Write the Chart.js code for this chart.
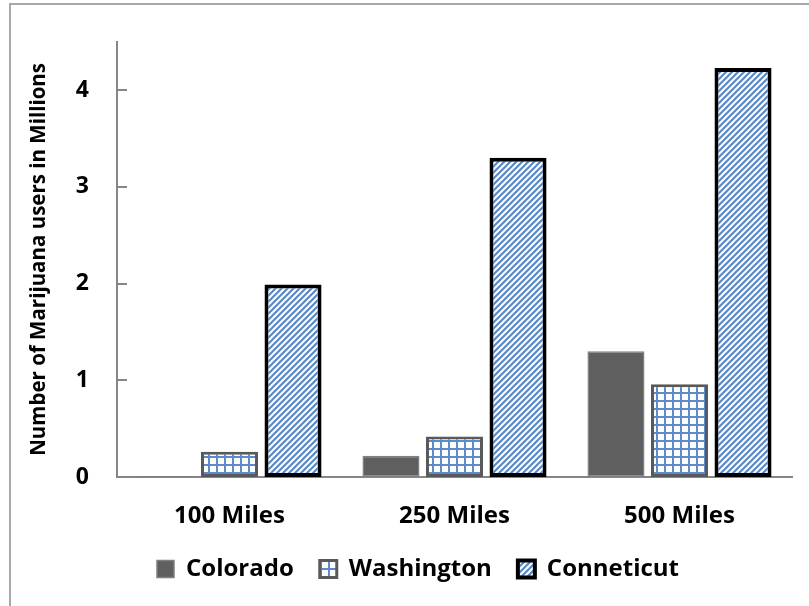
<!DOCTYPE html>
<html>
<head>
<meta charset="utf-8">
<script src="https://cdn.jsdelivr.net/npm/chart.js@4.4.1/dist/chart.umd.min.js"></script>
<style>
  html, body { margin: 0; padding: 0; background: #fff; overflow: hidden; }
  #wrap { position: relative; width: 809px; height: 606px; }
  #frame { position: absolute; left: 9px; top: 3px; width: 830px; height: 630px; border: 2px solid #a9a9a9; box-sizing: border-box; }
  #chart { position: absolute; left: 0; top: 0; }
</style>
</head>
<body>
<div id="wrap">
  <div id="frame"></div>
  <canvas id="chart" width="809" height="606"></canvas>
</div>
<script>
// ===== data =====
const categories = ['100 Miles', '250 Miles', '500 Miles'];
const colorado = [0.01, 0.22, 1.30];
const washington = [0.26, 0.42, 0.96];
const conneticut = [1.99, 3.30, 4.23];
const yTicks = [0, 1, 2, 3, 4];
const yMax = 4.5;

const axisGrey = '#868686';
const FONT = '"Open Sans", "DejaVu Sans", sans-serif';

// grid fill for Washington
function gridPattern() {
  const c = document.createElement('canvas');
  c.width = 8; c.height = 8;
  const g = c.getContext('2d');
  g.fillStyle = '#fff';
  g.fillRect(0, 0, 8, 8);
  g.fillStyle = '#5b8bc9';
  g.fillRect(0, 0, 8, 2);
  g.fillRect(0, 0, 2, 8);
  return g.createPattern(c, 'repeat');
}

// upward diagonal stripes for Conneticut
function stripePattern() {
  const s = 6;
  const c = document.createElement('canvas');
  c.width = s; c.height = s;
  const g = c.getContext('2d');
  g.fillStyle = '#fff';
  g.fillRect(0, 0, s, s);
  g.strokeStyle = '#5a89c6';
  g.lineWidth = 2.2;
  g.beginPath();
  g.moveTo(-1, s + 1); g.lineTo(s + 1, -1);
  g.moveTo(-1, 1); g.lineTo(1, -1);
  g.moveTo(s - 1, s + 1); g.lineTo(s + 1, s - 1);
  g.stroke();
  return g.createPattern(c, 'repeat');
}

const insideTicks = {
  id: 'insideTicks',
  afterDatasetsDraw(chart) {
    const y = chart.scales.y;
    const ctx = chart.ctx;
    const x0 = chart.chartArea.left;
    ctx.save();
    ctx.strokeStyle = axisGrey;
    ctx.lineWidth = 2;
    yTicks.forEach(v => {
      const py = Math.round(y.getPixelForValue(v));
      ctx.beginPath();
      ctx.moveTo(x0, py);
      ctx.lineTo(x0 + 10, py);
      ctx.stroke();
    });
    ctx.restore();
  }
};

// legend sits a bit right of the canvas centre in the original
const shiftLegend = {
  id: 'shiftLegend',
  afterLayout(chart) {
    chart.legend.left += 22;
    chart.legend.right += 22;
  }
};

new Chart(document.getElementById('chart'), {
  type: 'bar',
  data: {
    labels: categories,
    datasets: [
      { label: 'Colorado', data: colorado, backgroundColor: '#5f5f5f', borderColor: '#808080', borderWidth: 1.5, borderSkipped: false },
      { label: 'Washington', data: washington, backgroundColor: gridPattern(), borderColor: '#595959', borderWidth: 3, borderSkipped: false },
      { label: 'Conneticut', data: conneticut, backgroundColor: stripePattern(), borderColor: '#000', borderWidth: 4, borderSkipped: false }
    ]
  },
  options: {
    responsive: false,
    animation: false,
    devicePixelRatio: 1,
    categoryPercentage: 0.847,
    barPercentage: 0.898,
    layout: { autoPadding: false, padding: { left: 0, right: 17, top: 31, bottom: 15 } },
    plugins: {
      tooltip: { enabled: false },
      legend: {
        position: 'bottom',
        labels: { boxWidth: 17, boxHeight: 17, padding: 26, color: '#000', font: { family: FONT, size: 24, weight: 'bold' } }
      }
    },
    scales: {
      x: {
        grid: { display: false, drawTicks: false },
        border: { color: axisGrey, width: 2 },
        ticks: { color: '#000', padding: 25, font: { family: FONT, size: 24, weight: 'bold' } },
        afterFit(scale) { scale.height = 54; }
      },
      y: {
        min: 0,
        max: yMax,
        grid: { display: false, drawTicks: false },
        border: { color: axisGrey, width: 2 },
        afterBuildTicks(scale) { scale.ticks = yTicks.map(v => ({ value: v })); },
        ticks: { color: '#000', padding: 28, font: { family: FONT, size: 23, weight: 'bold' } },
        title: {
          display: true,
          text: 'Number of Marijuana users in Millions',
          color: '#000',
          padding: { top: 27, bottom: 0 },
          font: { family: FONT, size: 20.5, weight: 'bold' }
        },
        afterFit(scale) { scale.width = 117; }
      }
    }
  },
  plugins: [insideTicks, shiftLegend]
});
</script>
</body>
</html>
